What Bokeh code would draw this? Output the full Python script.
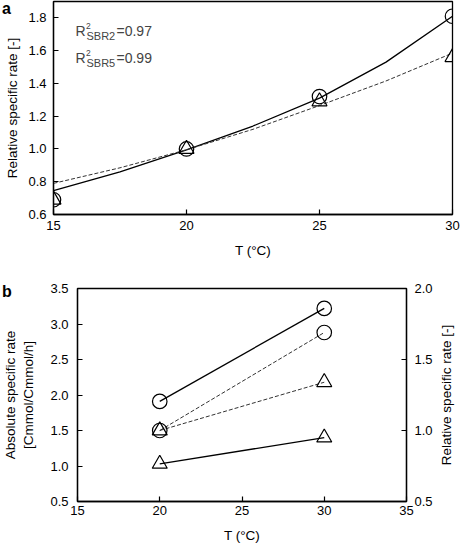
from bokeh.plotting import figure
from bokeh.models import Range1d, LinearAxis, FixedTicker, NumeralTickFormatter, Label, Div
from bokeh.embed import file_html
from bokeh.resources import INLINE

# ---------------- data: panel a ----------------
temp_a = [15, 20, 25, 30]
sbr2_rel = [0.69, 1.00, 1.32, 1.81]
sbr5_rel = [0.69, 1.00, 1.29, 1.56]
fit_T = [15, 17.5, 20, 22.5, 25, 27.5, 30]
sbr2_fit = [0.745, 0.86, 0.995, 1.14, 1.31, 1.53, 1.81]
sbr5_fit = [0.79, 0.885, 0.995, 1.12, 1.265, 1.415, 1.585]
r2_names = ["SBR2", "SBR5"]
r2_values = ["0.97", "0.99"]
a_xticks = [15, 20, 25, 30]
a_yticks = [0.6, 0.8, 1.0, 1.2, 1.4, 1.6, 1.8]

# ---------------- data: panel b ----------------
temp_b = [20, 30]
abs_circle = [1.91, 3.22]
abs_triangle = [1.03, 1.40]
rel_circle = [1.00, 1.69]
rel_triangle = [1.00, 1.34]
b_xticks = [15, 20, 25, 30, 35]
b_yticks_left = [0.5, 1.0, 1.5, 2.0, 2.5, 3.0, 3.5]
b_yticks_right = [0.5, 1.0, 1.5, 2.0]

FONT = "Liberation Sans"
TICK_SIZE = "13px"
LABEL_SIZE = "13.5px"


def style_axis(ax, standoff):
    ax.axis_line_color = "black"
    ax.axis_line_width = 1.3
    ax.major_tick_line_color = "black"
    ax.major_tick_line_width = 1.2
    ax.major_tick_in = 5
    ax.major_tick_out = 0
    ax.minor_tick_line_color = None
    ax.major_label_text_font = FONT
    ax.major_label_text_font_size = TICK_SIZE
    ax.major_label_text_color = "black"
    ax.major_label_standoff = standoff
    ax.axis_label_text_font = FONT
    ax.axis_label_text_font_size = LABEL_SIZE
    ax.axis_label_text_font_style = "normal"
    ax.axis_label_text_color = "black"


def style_fig(p):
    p.xgrid.visible = False
    p.ygrid.visible = False
    p.outline_line_color = "black"
    p.outline_line_width = 1.3
    p.background_fill_color = "white"
    p.border_fill_color = "white"


# ================= panel a =================
pa = figure(width=462, height=270, x_range=Range1d(15, 30), y_range=Range1d(0.6, 1.9),
            output_backend="svg", toolbar_location=None,
            min_border_left=53, min_border_right=10, min_border_top=1, min_border_bottom=56)
style_fig(pa)
style_axis(pa.xaxis[0], 6)
style_axis(pa.yaxis[0], 7)
pa.xaxis[0].ticker = FixedTicker(ticks=a_xticks)
pa.yaxis[0].ticker = FixedTicker(ticks=a_yticks)
pa.yaxis[0].formatter = NumeralTickFormatter(format="0.0")
pa.xaxis[0].axis_label = "T (°C)"
pa.xaxis[0].axis_label_standoff = 10
pa.yaxis[0].axis_label = "Relative specific rate [-]"
pa.yaxis[0].axis_label_standoff = 5

pa.line(fit_T, sbr2_fit, line_color="black", line_width=1.3)
pa.line(fit_T, sbr5_fit, line_color="#333333", line_width=1, line_dash="4 2")
pa.scatter(temp_a, sbr2_rel, marker="circle", size=14.5, fill_color=None,
           line_color="black", line_width=1.2)
pa.scatter(temp_a, sbr5_rel, marker="triangle", size=15, fill_color=None,
           line_color="black", line_width=1.2)

# R^2 annotations
for i, (nm, val) in enumerate(zip(r2_names, r2_values)):
    base = 184 - 27 * i
    x0 = 22
    pa.add_layout(Label(x=x0, y=base, x_units="screen", y_units="screen", text="R",
                        text_font=FONT, text_font_size="14px", text_baseline="alphabetic"))
    pa.add_layout(Label(x=x0 + 10.5, y=base + 5, x_units="screen", y_units="screen", text="2",
                        text_font=FONT, text_font_size="8.5px", text_baseline="alphabetic"))
    pa.add_layout(Label(x=x0 + 11, y=base - 5, x_units="screen", y_units="screen", text=nm,
                        text_font=FONT, text_font_size="11px", text_baseline="alphabetic"))
    pa.add_layout(Label(x=x0 + 41, y=base, x_units="screen", y_units="screen", text="=" + val,
                        text_font=FONT, text_font_size="14px", text_baseline="alphabetic"))

# ================= panel b =================
pb = figure(width=462, height=276, x_range=Range1d(15, 35), y_range=Range1d(0.5, 3.5),
            output_backend="svg", toolbar_location=None,
            min_border_left=73, min_border_right=56, min_border_top=18, min_border_bottom=45)
style_fig(pb)
pb.extra_y_ranges = {"rel": Range1d(0.5, 2.0)}
style_axis(pb.xaxis[0], 4)
style_axis(pb.yaxis[0], 9)
pb.xaxis[0].ticker = FixedTicker(ticks=b_xticks)
pb.yaxis[0].ticker = FixedTicker(ticks=b_yticks_left)
pb.yaxis[0].formatter = NumeralTickFormatter(format="0.0")
pb.xaxis[0].axis_label = "T (°C)"
pb.xaxis[0].axis_label_standoff = 10
pb.yaxis[0].axis_label = "Absolute specific rate\n[Cmmol/Cmmol/h]"
pb.yaxis[0].axis_label_standoff = 11

right_ax = LinearAxis(y_range_name="rel", ticker=FixedTicker(ticks=b_yticks_right),
                      formatter=NumeralTickFormatter(format="0.0"))
style_axis(right_ax, 8)
pb.add_layout(right_ax, "right")

pb.line(temp_b, abs_circle, line_color="black", line_width=1.3)
pb.line(temp_b, abs_triangle, line_color="black", line_width=1.3)
pb.line(temp_b, rel_circle, y_range_name="rel", line_color="#333333", line_width=1, line_dash="4 2")
pb.line(temp_b, rel_triangle, y_range_name="rel", line_color="#333333", line_width=1, line_dash="4 2")
pb.scatter(temp_b, abs_circle, marker="circle", size=14.5, fill_color=None,
           line_color="black", line_width=1.2)
pb.scatter(temp_b, abs_triangle, marker="triangle", size=15, fill_color=None,
           line_color="black", line_width=1.2)
pb.scatter(temp_b, rel_circle, y_range_name="rel", marker="circle", size=14.5, fill_color=None,
           line_color="black", line_width=1.2)
pb.scatter(temp_b, rel_triangle, y_range_name="rel", marker="triangle", size=15, fill_color=None,
           line_color="black", line_width=1.2)

# texts outside the plot frames
letter_style = {"position": "absolute", "font-family": FONT, "font-size": "16px",
                "font-weight": "bold", "line-height": "normal", "color": "black", "margin": "0"}
div_a = Div(text="a", width=14, height=19,
            styles=dict(letter_style, left="2px", top="0px"))
div_b = Div(text="b", width=14, height=19,
            styles=dict(letter_style, left="2px", top="283px"))
div_right = Div(text="Relative specific rate [-]", width=170, height=16,
                styles={"position": "absolute", "left": "362px", "top": "387px",
                        "font-family": FONT, "font-size": LABEL_SIZE, "line-height": "16px",
                        "text-align": "center", "color": "black", "margin": "0",
                        "transform": "rotate(-90deg)", "white-space": "nowrap"})

open("out.html", "w").write(file_html([pa, pb, div_a, div_b, div_right], INLINE))
